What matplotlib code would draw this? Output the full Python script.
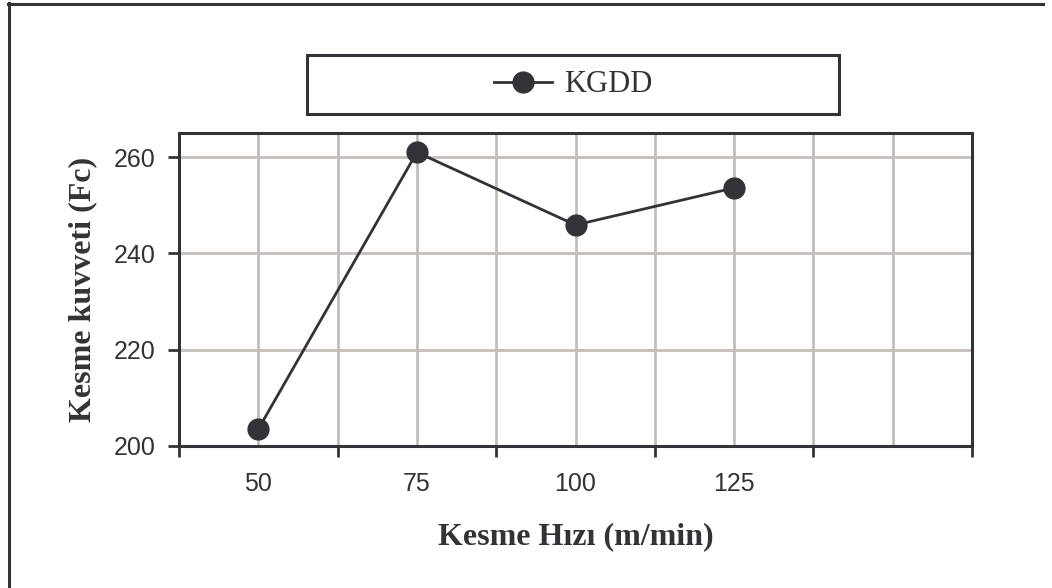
import matplotlib
matplotlib.use("Agg")
import matplotlib.pyplot as plt
from matplotlib.lines import Line2D
from matplotlib.patches import Rectangle

# Data
categories = ["50", "75", "100", "125", ""]
kgdd_values = [203.5, 261.0, 245.9, 253.6]
y_ticks = [200, 220, 240, 260]
series_name = "KGDD"

DARK = "#333237"
GRID = "#c6bdba"

fig = plt.figure(figsize=(10.52, 5.88), dpi=100)
W, H = 1052, 588

def fx(px):
    return px / W

def fy(py):
    return 1 - py / H

# Frame lines on the left and top of the figure
fig.add_artist(Line2D([fx(9), fx(9)], [fy(3), fy(588)], color=DARK, lw=2.2,
                      transform=fig.transFigure))
fig.add_artist(Line2D([fx(8), fx(1043)], [fy(4), fy(4)], color=DARK, lw=2.2,
                      transform=fig.transFigure))

ax = fig.add_axes([fx(179), fy(446), fx(972) - fx(179), fy(133) - fy(446)])

x = list(range(len(kgdd_values)))
ax.plot(x, kgdd_values, color=DARK, lw=2, marker="o", markersize=15,
        markerfacecolor=DARK, markeredgecolor=DARK, label=series_name, zorder=3)

ax.set_xlim(-0.5, len(categories) - 0.5)
ax.set_ylim(200, 265)

# Category labels at slot centres, tick marks at slot boundaries
ax.set_xticks(range(len(categories)))
ax.set_xticklabels(categories)
ax.set_xticks([i - 0.5 for i in range(len(categories) + 1)], minor=True)
ax.tick_params(axis="x", which="major", length=0, pad=19)
ax.tick_params(axis="x", which="minor", length=8, width=2, color=DARK,
               direction="out")
ax.set_yticks(y_ticks)
ax.tick_params(axis="y", which="major", length=8, width=2, color=DARK,
               direction="out", pad=9)

for lab in ax.get_xticklabels() + ax.get_yticklabels():
    lab.set_fontfamily("Liberation Sans")
    lab.set_fontsize(18)
    lab.set_color(DARK)

ax.grid(True, axis="x", which="both", color=GRID, lw=2, zorder=0)
ax.grid(True, axis="y", which="major", color=GRID, lw=2, zorder=0)
ax.set_axisbelow(True)

for sp in ax.spines.values():
    sp.set_color(DARK)
    sp.set_linewidth(2.2)

ax.set_xlabel("Kesme Hızı (m/min)", fontfamily="Liberation Serif",
              fontweight="bold", fontsize=23, color=DARK, va="center")
ax.xaxis.set_label_coords(0.5, (446 - 537) / (446 - 133))
ax.set_ylabel("Kesme kuvveti (Fc)", fontfamily="Liberation Serif",
              fontweight="bold", fontsize=23, color=DARK, va="center")
ax.yaxis.set_label_coords((83 - 179) / (972 - 179), 0.5)

# Legend box
fig.add_artist(Rectangle((fx(307), fy(114)), fx(839) - fx(307), fy(55) - fy(114),
                         transform=fig.transFigure, fill=False, edgecolor=DARK,
                         lw=2.2))
leg = ax.legend(loc="center", bbox_to_anchor=(fx(573), fy(85)),
                bbox_transform=fig.transFigure, frameon=False,
                prop={"family": "Liberation Serif", "size": 22},
                handlelength=1.9, handletextpad=0.4, borderpad=0,
                markerscale=1.0)
for t in leg.get_texts():
    t.set_color(DARK)

fig.savefig("out.png", dpi=100)
